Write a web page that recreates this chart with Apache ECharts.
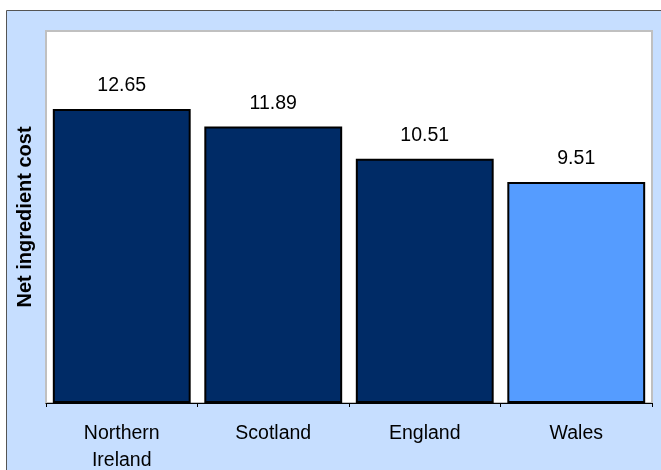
<!DOCTYPE html>
<html>
<head>
<meta charset="utf-8">
<script src="https://cdn.jsdelivr.net/npm/echarts@6/dist/echarts.min.js"></script>
<style>
  html, body { margin: 0; padding: 0; background: #fff; }
  #main { width: 661px; height: 470px; }
</style>
</head>
<body>
<div id="main"></div>
<script>
var categories = ['Northern\nIreland', 'Scotland', 'England', 'Wales'];
var costValues = [12.65, 11.89, 10.51, 9.51];
var barColors = ['#002B66', '#002B66', '#002B66', '#559CFF'];

var chart = echarts.init(document.getElementById('main'), null, {renderer: 'canvas'});

var barData = costValues.map(function (v, i) {
    return {value: v, itemStyle: {color: barColors[i]}};
});

chart.setOption({
    backgroundColor: '#ffffff',
    animation: false,
    textStyle: {fontFamily: 'Liberation Sans, Arial, sans-serif'},
    graphic: [{
        type: 'rect',
        z: -10,
        shape: {x: 6.5, y: 10.5, width: 660, height: 470},
        style: {fill: '#C6DEFF', stroke: '#555555', lineWidth: 1}
    }],
    grid: {
        left: 46, top: 31, right: 9, bottom: 67,
        outerBoundsMode: 'none',
        containLabel: false,
        show: true,
        backgroundColor: '#ffffff',
        borderColor: '#C0C0C0',
        borderWidth: 2
    },
    xAxis: {
        type: 'category',
        data: categories,
        axisLine: {lineStyle: {color: '#000000', width: 1}},
        axisTick: {show: true, length: 4, lineStyle: {color: '#000000'}},
        axisLabel: {color: '#000000', fontSize: 19.5, margin: 17, lineHeight: 27}
    },
    yAxis: {
        type: 'value',
        min: 0,
        max: 16,
        name: 'Net ingredient cost',
        nameLocation: 'middle',
        nameGap: 11,
        nameTextStyle: {color: '#000000', fontSize: 20, fontWeight: 'bold'},
        axisLine: {show: false},
        axisTick: {show: false},
        axisLabel: {show: false},
        splitLine: {show: false}
    },
    series: [{
        type: 'bar',
        data: barData,
        barCategoryGap: '9%',
        itemStyle: {borderColor: '#000000', borderWidth: 2},
        label: {
            show: true,
            position: 'top',
            distance: 13,
            color: '#000000',
            fontSize: 19.5,
            formatter: function (p) { return p.value.toFixed(2); }
        }
    }]
});
</script>
</body>
</html>
